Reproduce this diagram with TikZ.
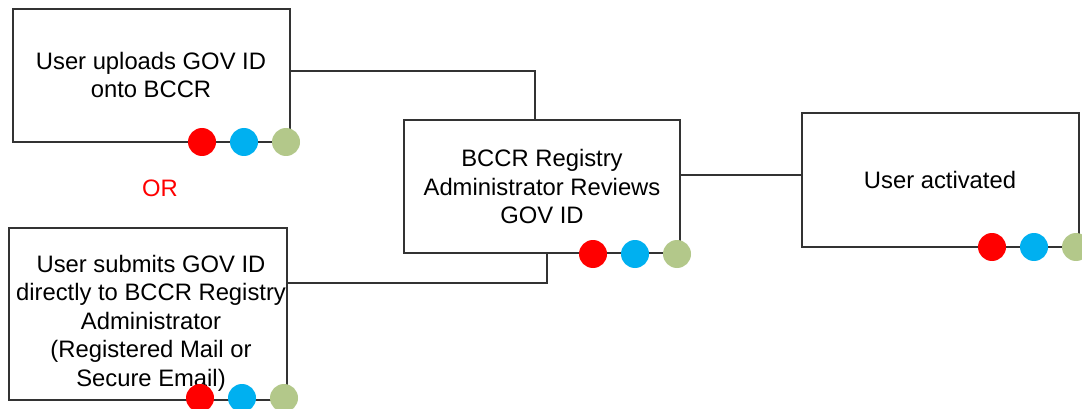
\documentclass[tikz,border=0pt]{standalone}
\usepackage{fontspec}
\setmainfont{Liberation Sans}
\definecolor{edge}{HTML}{333333}
\definecolor{dotred}{HTML}{FF0000}
\definecolor{dotblue}{HTML}{00B0F0}
\definecolor{dotgreen}{HTML}{B3C88A}
\tikzset{
  box/.style={draw=edge, line width=1.3pt, rectangle, inner sep=0pt},
  txt/.style={align=center, font=\fontsize{23.8}{28.5}\selectfont, inner sep=0pt},
  dot/.style={circle, inner sep=0pt, minimum size=28pt, draw=none},
  conn/.style={draw=edge, line width=1.3pt},
}
\begin{document}
\begin{tikzpicture}[x=1pt,y=-1pt]
\clip (0,0) rectangle (1082,409);
\fill[white] (0,0) rectangle (1082,409);
% boxes
\node[box, minimum width=277pt, minimum height=133pt] (b1) at (151.5,75.5) {};
\node[box, minimum width=278pt, minimum height=172pt] (b2) at (148,314) {};
\node[box, minimum width=276pt, minimum height=133pt] (b3) at (542,186.5) {};
\node[box, minimum width=277pt, minimum height=134pt] (b4) at (940.5,180) {};
% texts
\node[txt] (t1) at (151,75) {User uploads GOV ID\\onto BCCR};
\node[txt] (t2) at (151,323) {User submits GOV ID\\directly to BCCR Registry\\Administrator\\(Registered Mail or\\Secure Email)};
\node[txt] (t3) at (542,186.5) {BCCR Registry\\Administrator Reviews\\GOV ID};
\node[txt] (t4) at (940,180) {User activated};
\node[txt, text=dotred] (or) at (160,188) {OR};
% connectors
\coordinate (c1) at (535,71);
\coordinate (c2) at (547,283);
\draw[conn] (b1.east |- c1) -| (b3.north -| c1);
\draw[conn] (b3.south -| c2) |- (b2.east |- c2);
\draw[conn] (b3.east |- 0,175) -- (b4.west |- 0,175);
% dots
\node[dot, fill=dotred] (r1) at (202,142) {};
\node[dot, fill=dotblue] (u1) at (244,142) {};
\node[dot, fill=dotgreen] (g1) at (286,142) {};
\node[dot, fill=dotred] (r2) at (200,398) {};
\node[dot, fill=dotblue] (u2) at (242,398) {};
\node[dot, fill=dotgreen] (g2) at (284,398) {};
\node[dot, fill=dotred] (r3) at (593,254) {};
\node[dot, fill=dotblue] (u3) at (635,254) {};
\node[dot, fill=dotgreen] (g3) at (677,254) {};
\node[dot, fill=dotred] (r4) at (992,247) {};
\node[dot, fill=dotblue] (u4) at (1034,247) {};
\node[dot, fill=dotgreen] (g4) at (1076,247) {};
\end{tikzpicture}
\end{document}
